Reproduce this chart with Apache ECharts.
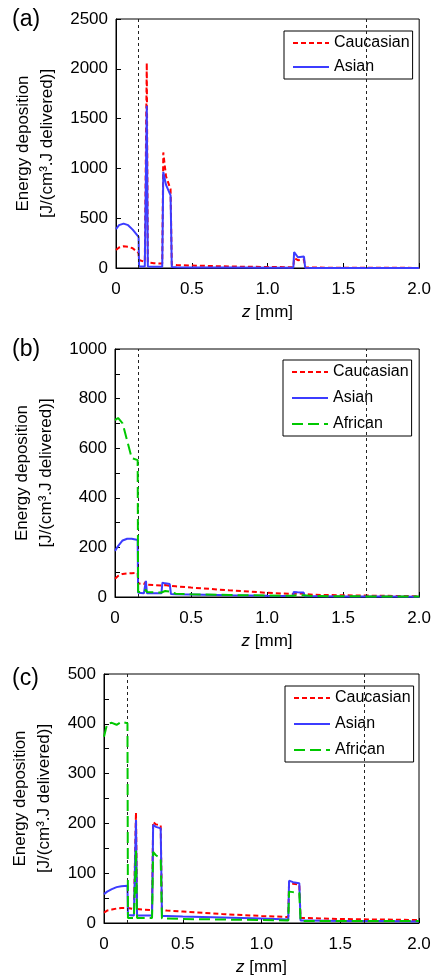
<!DOCTYPE html>
<html>
<head>
<meta charset="utf-8">
<script src="https://cdn.jsdelivr.net/npm/echarts@6/dist/echarts.min.js"></script>
<style>
html,body{margin:0;padding:0;background:#fff;}
#chart{width:434px;height:977px;}
</style>
</head>
<body>
<div id="chart"></div>
<script>
// depth grid (mm)
const z = [0, 0.02, 0.05, 0.08, 0.11, 0.149, 0.152, 0.19, 0.197, 0.203, 0.21, 0.25, 0.305, 0.312, 0.33, 0.36, 0.368, 0.4, 0.5, 0.75, 1.0, 1.17, 1.175, 1.2, 1.24, 1.248, 1.3, 1.5, 1.75, 2.0];

// panel (a)
const aCaucasian = [180, 205, 218, 214, 198, 150, 80, 62, 60, 2060, 55, 48, 45, 1160, 920, 790, 35, 30, 25, 15, 10, 8, 100, 78, 85, 5, 4, 3, 2, 1];
const aAsian     = [390, 430, 446, 430, 385, 312, 15, 15, 15, 1630, 15, 12, 12, 965, 835, 730, 10, 8, 6, 4, 3, 3, 160, 108, 115, 2, 1, 1, 1, 1];

// panel (b)
const bCaucasian = [74, 85, 93, 95, 96, 97, 55, 52, 52, 62, 50, 48, 46, 50, 48, 45, 44, 43, 38, 27, 17, 12, 14, 14, 13, 10, 9, 7, 5, 3];
const bAsian     = [186, 205, 228, 235, 235, 230, 17, 15, 15, 65, 15, 15, 15, 58, 55, 52, 12, 11, 10, 7, 5, 4, 20, 19, 18, 3, 3, 2, 2, 1];
const bAfrican   = [713, 722, 700, 630, 560, 552, 20, 20, 20, 30, 20, 19, 18, 25, 24, 22, 14, 13, 11, 8, 6, 5, 7, 7, 7, 4, 4, 3, 2, 2];

// panel (c)
const cCaucasian = [21, 25, 27, 29, 30, 30, 29, 28, 28, 222, 28, 27, 26, 203, 198, 196, 26, 25, 23, 18, 14, 12, 80, 79, 77, 10, 10, 8, 7, 6];
const cAsian     = [58, 63, 68, 72, 74, 75, 16, 15, 15, 207, 15, 15, 15, 197, 193, 190, 14, 14, 13, 11, 9, 7, 85, 82, 80, 5, 5, 4, 4, 3];
const cAfrican   = [374, 400, 402, 398, 404, 401, 10, 10, 10, 146, 10, 10, 10, 143, 136, 130, 9, 9, 8, 7, 6, 5, 63, 62, 61, 4, 4, 4, 4, 4];

// boundaries (mm)
const boundaries = [0.15, 1.65];
const yMax = [2500, 1000, 500];
const yStep = [500, 200, 100];
const panelLabels = ['(a)', '(b)', '(c)'];

const FONT = 'Liberation Sans, Arial, Helvetica, sans-serif';
const styles = {
  Caucasian: {color: '#ff0000', type: [5, 3], width: 2},
  Asian: {color: '#3c3cff', type: 'solid', width: 2},
  African: {color: '#00c800', type: [11, 5], width: 2}
};

const grids = [
  {left: 116, top: 19, width: 306, height: 249},
  {left: 115, top: 349, width: 306, height: 248},
  {left: 104, top: 674, width: 315, height: 249}
];
const nameGaps = [51, 50, 43];
const legendPos = [
  {left: 284, top: 31, gap: 8},
  {left: 283, top: 360, gap: 10},
  {left: 285, top: 686, gap: 10}
];
const titleTops = [8, 338, 667];

const panels = [
  [['Caucasian', aCaucasian], ['Asian', aAsian]],
  [['Caucasian', bCaucasian], ['Asian', bAsian], ['African', bAfrican]],
  [['Caucasian', cCaucasian], ['Asian', cAsian], ['African', cAfrican]]
];

const option = {
  animation: false,
  backgroundColor: '#fff',
  textStyle: {fontFamily: FONT, color: '#000'},
  title: panelLabels.map((t, i) => ({
    text: t, left: 12, top: titleTops[i], padding: 0,
    textStyle: {fontFamily: FONT, fontSize: 23, fontWeight: 'normal', color: '#000'}
  })),
  grid: grids.map(g => Object.assign({show: true, borderColor: '#000', borderWidth: 1, backgroundColor: 'transparent'}, g)),
  legend: panels.map((p, i) => ({
    orient: 'vertical',
    left: legendPos[i].left, top: legendPos[i].top,
    itemWidth: 36, itemHeight: 14, itemGap: legendPos[i].gap,
    padding: [4, 3, 4, 8],
    borderColor: '#000', borderWidth: 1,
    backgroundColor: '#fff',
    selectedMode: false,
    itemStyle: {opacity: 0},
    data: p.map(s => s[0]),
    textStyle: {fontFamily: FONT, fontSize: 16, color: '#000', padding: [0, 0, 0, 0]}
  })),
  xAxis: grids.map((g, i) => ({
    type: 'value', gridIndex: i, min: 0, max: 2, interval: 0.5,
    name: '{i|z} [mm]', nameLocation: 'middle', nameGap: 36,
    nameTextStyle: {fontFamily: FONT, fontSize: 17, color: '#000',
      rich: {i: {fontFamily: FONT, fontSize: 17, fontStyle: 'italic', color: '#000'}}},
    axisLine: {show: true, lineStyle: {color: '#000', width: 1}},
    axisTick: {show: true, inside: true, length: 5, lineStyle: {color: '#000'}},
    axisLabel: {fontFamily: FONT, fontSize: 17, color: '#000', margin: 13,
      formatter: v => v === 0 ? '0' : v.toFixed(1)},
    splitLine: {show: false}
  })),
  yAxis: grids.map((g, i) => ({
    type: 'value', gridIndex: i, min: 0, max: yMax[i], interval: yStep[i],
    name: 'Energy deposition\n[J/(cm³.J delivered)]',
    nameLocation: 'middle', nameRotate: 90, nameGap: nameGaps[i],
    nameTextStyle: {fontFamily: FONT, fontSize: 17, color: '#000', lineHeight: 24, align: 'center'},
    axisLine: {show: true, lineStyle: {color: '#000', width: 1}},
    axisTick: {show: true, inside: true, length: 5, lineStyle: {color: '#000'}},
    minorTick: {show: i > 0, splitNumber: 2, length: 5, lineStyle: {color: '#000'}},
    axisLabel: {fontFamily: FONT, fontSize: 17, color: '#000', margin: 8,
      formatter: v => String(v)},
    splitLine: {show: false}
  })),
  series: []
};

panels.forEach((p, i) => {
  p.forEach(([name, vals], k) => {
    const s = {
      type: 'line', name: name, xAxisIndex: i, yAxisIndex: i,
      symbol: 'none', showSymbol: false, smooth: false,
      data: z.map((x, j) => [x, vals[j]]),
      lineStyle: styles[name], itemStyle: {color: styles[name].color},
      z: 3 + k
    };
    if (k === 0) {
      s.markLine = {
        silent: true, symbol: ['none', 'none'], animation: false,
        label: {show: false},
        lineStyle: {color: '#222', type: [3, 3], width: 1},
        data: boundaries.map(b => ({xAxis: b}))
      };
    }
    option.series.push(s);
  });
});

const chart = echarts.init(document.getElementById('chart'), null, {renderer: 'canvas'});
chart.setOption(option);
</script>
</body>
</html>
